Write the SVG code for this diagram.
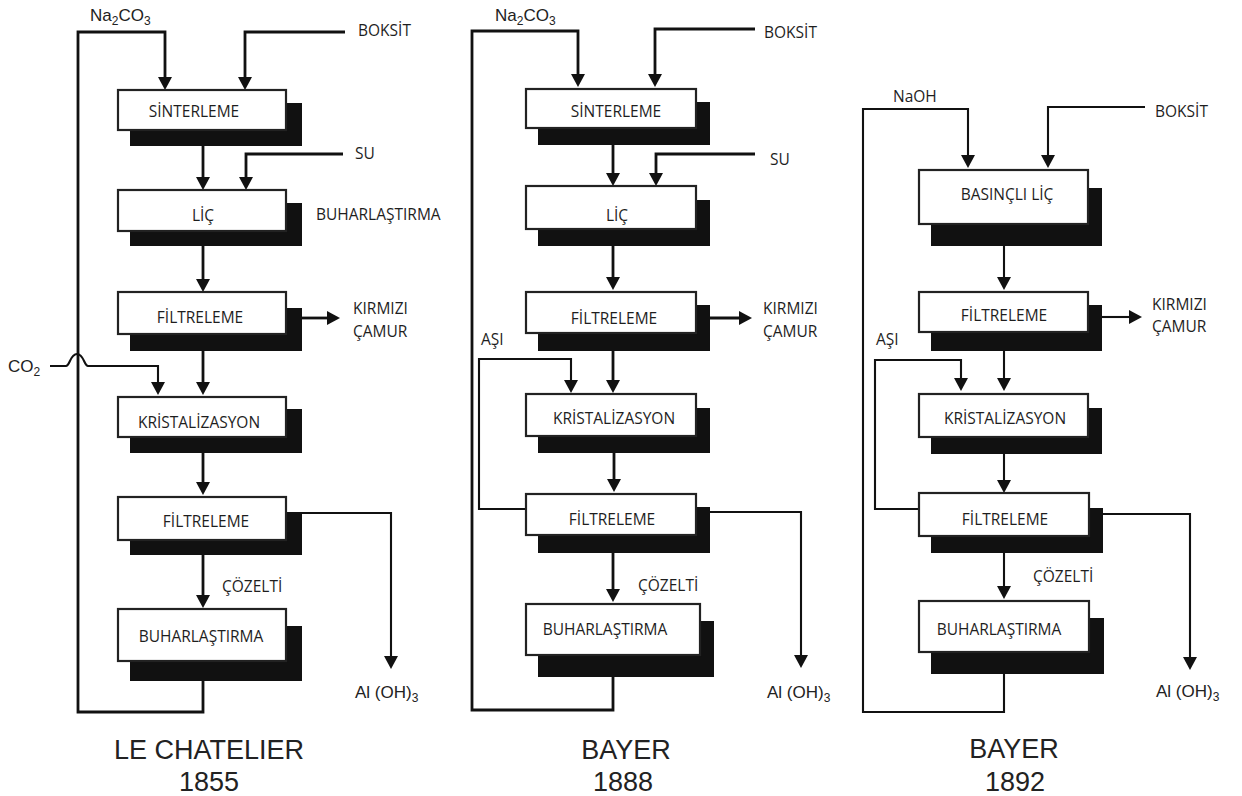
<svg xmlns="http://www.w3.org/2000/svg" width="1242" height="796" viewBox="0 0 1242 796">
<style>
.box{fill:#fff;stroke:#222;stroke-width:2.2}
.sh{fill:#111}
.lbl{font-family:"Open Sans","DejaVu Sans",sans-serif;font-size:15.5px;fill:#1e1e1e;text-anchor:middle}
.out{font-family:"Open Sans","DejaVu Sans",sans-serif;font-size:15.5px;fill:#1e1e1e}
.chem{font-family:"Liberation Sans",Arial,sans-serif;font-size:17px;fill:#222}
.title{font-family:"Liberation Sans",Arial,sans-serif;font-size:27px;fill:#222;text-anchor:middle}
.c{fill:none;stroke:#111;stroke-width:2.8}
.t{fill:none;stroke:#111;stroke-width:2.1}
.a{marker-end:url(#ah)}
</style>
<defs>
<marker id="ah" markerUnits="userSpaceOnUse" markerWidth="16" markerHeight="16" refX="4" refY="7" orient="auto">
<path d="M0,0 L13,7 L0,14 z" fill="#111"/>
</marker>
</defs>
<rect width="1242" height="796" fill="#fff"/>

<g id="connectors">
<!-- column 1 -->
<path class="c a" d="M203,681 V712 H78 V32 H165 V81"/>
<path class="c a" d="M345,32 H245 V81"/>
<path class="c a" d="M203,146 V181"/>
<path class="c a" d="M343,154 H246 V181"/>
<path class="c a" d="M203,246 V283"/>
<path class="c a" d="M302,318 H331"/>
<path class="t a" d="M50,366 H66 C70,366 70,354 77,354 C84,354 84,366 88,366 H158 V386"/>
<path class="c a" d="M203,351 V386"/>
<path class="c a" d="M203,453 V486"/>
<path class="t a" d="M302,513 H391 V660"/>
<path class="c a" d="M203,555 V599"/>
<!-- column 2 -->
<path class="c a" d="M613,677 V710 H472 V31 H578 V78"/>
<path class="c a" d="M755,29 H655 V78"/>
<path class="c a" d="M613,145 V177"/>
<path class="c a" d="M755,154 H656 V177"/>
<path class="c a" d="M613,246 V281"/>
<path class="c a" d="M710,318 H743"/>
<path class="t a" d="M526,509 H479 V359 H571 V384"/>
<path class="c a" d="M613,351 V384"/>
<path class="c a" d="M614,453 V483"/>
<path class="t a" d="M710,512 H801 V659"/>
<path class="c a" d="M613,553 V593"/>
<!-- column 3 -->
<path class="t a" d="M1004,674 V712 H863 V109 H968 V159"/>
<path class="t a" d="M1145,107 H1048 V159"/>
<path class="t a" d="M1004,246 V281"/>
<path class="t a" d="M1102,317 H1133"/>
<path class="t a" d="M919,509 H875 V360 H961 V382"/>
<path class="t a" d="M1004,351 V382"/>
<path class="t a" d="M1004,454 V484"/>
<path class="t a" d="M1103,514 H1190 V661"/>
<path class="t a" d="M1004,553 V590"/>
</g>

<!-- ===== Column 1: LE CHATELIER 1855 ===== -->
<g id="c1-sinterleme">
<rect class="sh" x="130" y="103" width="172" height="43"/>
<rect class="box" x="118" y="90" width="168" height="40"/>
<text class="lbl" x="194" y="117">SİNTERLEME</text>
</g>
<g id="c1-lic">
<rect class="sh" x="130" y="203" width="172" height="43"/>
<rect class="box" x="118" y="190" width="168" height="41"/>
<text class="lbl" x="203" y="221">LİÇ</text>
</g>
<g id="c1-filtreleme1">
<rect class="sh" x="130" y="308" width="172" height="43"/>
<rect class="box" x="118" y="292" width="168" height="42"/>
<text class="lbl" x="200" y="323">FİLTRELEME</text>
</g>
<g id="c1-kristalizasyon">
<rect class="sh" x="130" y="409" width="172" height="44"/>
<rect class="box" x="118" y="397" width="168" height="40"/>
<text class="lbl" x="199" y="428">KRİSTALİZASYON</text>
</g>
<g id="c1-filtreleme2">
<rect class="sh" x="130" y="512" width="172" height="43"/>
<rect class="box" x="118" y="497" width="168" height="43"/>
<text class="lbl" x="206" y="527">FİLTRELEME</text>
</g>
<g id="c1-buharlastirma">
<rect class="sh" x="130" y="626" width="172" height="55"/>
<rect class="box" x="118" y="609" width="168" height="52"/>
<text class="lbl" x="201" y="642">BUHARLAŞTIRMA</text>
</g>
<g id="c1-labels">
<text class="chem" x="90" y="21">Na<tspan font-size="12" dy="4">2</tspan><tspan dy="-4">CO</tspan><tspan font-size="12" dy="4">3</tspan></text>
<text class="out" x="358" y="36">BOKSİT</text>
<text class="out" x="355" y="159">SU</text>
<text class="out" x="316" y="220">BUHARLAŞTIRMA</text>
<text class="out" x="353" y="314">KIRMIZI</text>
<text class="out" x="353" y="337">ÇAMUR</text>
<text class="chem" x="8" y="372">CO<tspan font-size="12" dy="4">2</tspan></text>
<text class="out" x="222" y="592">ÇÖZELTİ</text>
<text class="chem" x="355" y="698">Al (OH)<tspan font-size="12" dy="4">3</tspan></text>
<text class="title" x="209" y="759">LE CHATELIER</text>
<text class="title" x="209" y="791">1855</text>
</g>

<!-- ===== Column 2: BAYER 1888 ===== -->
<g id="c2-sinterleme">
<rect class="sh" x="538" y="102" width="172" height="43"/>
<rect class="box" x="526" y="89" width="170" height="39"/>
<text class="lbl" x="616" y="117">SİNTERLEME</text>
</g>
<g id="c2-lic">
<rect class="sh" x="538" y="200" width="172" height="46"/>
<rect class="box" x="526" y="186" width="170" height="43"/>
<text class="lbl" x="617" y="221">LİÇ</text>
</g>
<g id="c2-filtreleme1">
<rect class="sh" x="538" y="305" width="172" height="46"/>
<rect class="box" x="526" y="292" width="170" height="41"/>
<text class="lbl" x="614" y="324">FİLTRELEME</text>
</g>
<g id="c2-kristalizasyon">
<rect class="sh" x="538" y="408" width="172" height="45"/>
<rect class="box" x="526" y="394" width="170" height="42"/>
<text class="lbl" x="614" y="424">KRİSTALİZASYON</text>
</g>
<g id="c2-filtreleme2">
<rect class="sh" x="538" y="507" width="172" height="46"/>
<rect class="box" x="526" y="494" width="170" height="41"/>
<text class="lbl" x="612" y="525">FİLTRELEME</text>
</g>
<g id="c2-buharlastirma">
<rect class="sh" x="538" y="621" width="176" height="56"/>
<rect class="box" x="526" y="604" width="174" height="51"/>
<text class="lbl" x="605" y="635">BUHARLAŞTIRMA</text>
</g>
<g id="c2-labels">
<text class="chem" x="495" y="21">Na<tspan font-size="12" dy="4">2</tspan><tspan dy="-4">CO</tspan><tspan font-size="12" dy="4">3</tspan></text>
<text class="out" x="764" y="38">BOKSİT</text>
<text class="out" x="770" y="165">SU</text>
<text class="out" x="763" y="314">KIRMIZI</text>
<text class="out" x="763" y="337">ÇAMUR</text>
<text class="out" x="481" y="345">AŞI</text>
<text class="out" x="638" y="591">ÇÖZELTİ</text>
<text class="chem" x="767" y="698">Al (OH)<tspan font-size="12" dy="4">3</tspan></text>
<text class="title" x="626" y="759">BAYER</text>
<text class="title" x="623" y="791">1888</text>
</g>

<!-- ===== Column 3: BAYER 1892 ===== -->
<g id="c3-basincli-lic">
<rect class="sh" x="931" y="188" width="171" height="58"/>
<rect class="box" x="919" y="170" width="169" height="54"/>
<text class="lbl" x="1007" y="200">BASINÇLI LİÇ</text>
</g>
<g id="c3-filtreleme1">
<rect class="sh" x="931" y="305" width="171" height="46"/>
<rect class="box" x="919" y="292" width="169" height="40"/>
<text class="lbl" x="1004" y="321">FİLTRELEME</text>
</g>
<g id="c3-kristalizasyon">
<rect class="sh" x="931" y="408" width="171" height="46"/>
<rect class="box" x="919" y="394" width="169" height="43"/>
<text class="lbl" x="1005" y="424">KRİSTALİZASYON</text>
</g>
<g id="c3-filtreleme2">
<rect class="sh" x="931" y="508" width="172" height="45"/>
<rect class="box" x="919" y="493" width="170" height="43"/>
<text class="lbl" x="1005" y="525">FİLTRELEME</text>
</g>
<g id="c3-buharlastirma">
<rect class="sh" x="931" y="618" width="173" height="56"/>
<rect class="box" x="919" y="601" width="170" height="51"/>
<text class="lbl" x="999" y="635">BUHARLAŞTIRMA</text>
</g>
<g id="c3-labels">
<text class="out" x="893" y="102">NaOH</text>
<text class="out" x="1155" y="117">BOKSİT</text>
<text class="out" x="1152" y="310">KIRMIZI</text>
<text class="out" x="1152" y="332">ÇAMUR</text>
<text class="out" x="876" y="345">AŞI</text>
<text class="out" x="1033" y="582">ÇÖZELTİ</text>
<text class="chem" x="1156" y="697">Al (OH)<tspan font-size="12" dy="4">3</tspan></text>
<text class="title" x="1014" y="758">BAYER</text>
<text class="title" x="1015" y="791">1892</text>
</g>
</svg>
